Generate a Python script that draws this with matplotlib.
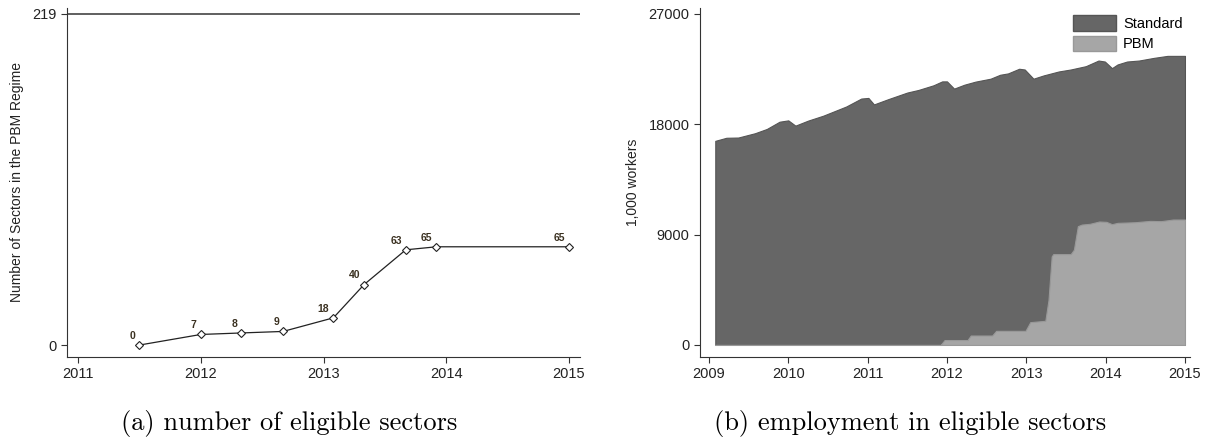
import matplotlib
matplotlib.use("Agg")
import matplotlib.pyplot as plt
from matplotlib.patches import Patch

# panel (a): sectors in PBM regime
sector_dates = [2011.5, 2012.0, 2012.33, 2012.67, 2013.08, 2013.33, 2013.67, 2013.92, 2015.0]
sector_counts = [0, 7, 8, 9, 18, 40, 63, 65, 65]
total_sectors = 219

# panel (b): employment, 1,000 workers (top of stack = all eligible sectors)
total_dates = [2009.08, 2009.22, 2009.37, 2009.58, 2009.73, 2009.89, 2010.0, 2010.09, 2010.25,
               2010.44, 2010.73, 2010.92, 2011.01, 2011.08, 2011.26, 2011.5, 2011.64, 2011.83,
               2011.94, 2012.0, 2012.09, 2012.22, 2012.36, 2012.55, 2012.67, 2012.77, 2012.91,
               2012.98, 2013.09, 2013.22, 2013.41, 2013.56, 2013.75, 2013.91, 2013.99, 2014.08,
               2014.15, 2014.27, 2014.42, 2014.61, 2014.78, 2015.0]
total_workers = [16650, 16900, 16920, 17270, 17620, 18210, 18320, 17890, 18300,
                 18700, 19450, 20100, 20150, 19620, 20050, 20590, 20800, 21180,
                 21500, 21500, 20910, 21230, 21480, 21720, 22040, 22150, 22530,
                 22470, 21720, 21990, 22310, 22470, 22740, 23200, 23120, 22580,
                 22880, 23120, 23200, 23420, 23580, 23580]

pbm_dates = [2009.08, 2011.92, 2011.97, 2012.26, 2012.3, 2012.57, 2012.62, 2012.99, 2013.05,
             2013.24, 2013.28, 2013.32, 2013.34, 2013.56, 2013.6, 2013.65, 2013.7, 2013.8,
             2013.92, 2014.01, 2014.08, 2014.15, 2014.37, 2014.56, 2014.7, 2014.85, 2015.0]
pbm_workers = [0, 0, 400, 400, 770, 770, 1150, 1150, 1860,
               1970, 3670, 7220, 7410, 7410, 7770, 9690, 9820, 9880,
               10070, 10040, 9850, 9960, 10010, 10120, 10100, 10230, 10230]

tick_font = ["Liberation Sans", "DejaVu Sans"]
txt_col = "#222222"
spine_col = "#333333"

fig = plt.figure(figsize=(12.06, 4.41), dpi=100)
ax1 = fig.add_axes([0.0556, 0.1905, 0.4254, 0.7915])
ax2 = fig.add_axes([0.5804, 0.1905, 0.4063, 0.7915])

for ax in (ax1, ax2):
    ax.spines["top"].set_visible(False)
    ax.spines["right"].set_visible(False)
    ax.spines["left"].set_color(spine_col)
    ax.spines["bottom"].set_color(spine_col)
    ax.tick_params(direction="out", length=4, color=spine_col, labelsize=10.5, labelcolor=txt_col)

# (a)
ax1.axhline(total_sectors, color="#444444", lw=1.2)
ax1.plot(sector_dates, sector_counts, color="#222222", lw=0.9, marker="D", markersize=4,
         markerfacecolor="white", markeredgecolor="#222222", markeredgewidth=0.8)
for d, c in zip(sector_dates, sector_counts):
    ax1.annotate(str(c), (d, c), xytext=(-3, 3), textcoords="offset points", ha="right", va="bottom",
                 fontsize=7.5, fontweight="bold", color="#3a3020", family=tick_font)
ax1.set_xlim(2010.91, 2015.09)
ax1.set_ylim(-7.9, 223)
ax1.set_xticks([2011, 2012, 2013, 2014, 2015])
ax1.set_yticks([0, total_sectors])
ax1.set_ylabel("Number of Sectors in the PBM Regime", fontsize=10, color=txt_col, labelpad=6,
               family=tick_font)
for lab in ax1.get_xticklabels() + ax1.get_yticklabels():
    lab.set_family(tick_font)

# (b)
ax2.fill_between(total_dates, 0, total_workers, color="#666666", edgecolor="#555555", lw=0.8)
ax2.fill_between(pbm_dates, 0, pbm_workers, color="#a6a6a6", edgecolor="#999999", lw=0.8)
ax2.set_xlim(2008.887, 2015.063)
ax2.set_ylim(-982, 27491)
ax2.set_xticks([2009, 2010, 2011, 2012, 2013, 2014, 2015])
ax2.set_yticks([0, 9000, 18000, 27000])
ax2.set_ylabel("1,000 workers", fontsize=10, color=txt_col, labelpad=6, family=tick_font)
for lab in ax2.get_xticklabels() + ax2.get_yticklabels():
    lab.set_family(tick_font)
handles = [Patch(facecolor="#666666", edgecolor="#555555", label="Standard"),
           Patch(facecolor="#a6a6a6", edgecolor="#999999", label="PBM")]
ax2.legend(handles=handles, loc="upper right", frameon=False,
           handlelength=2.9, handleheight=1.3, borderaxespad=0.1, labelspacing=0.3,
           handletextpad=0.5, prop={"family": tick_font, "size": 10.5})

fig.text(0.24, 0.025, "(a) number of eligible sectors", ha="center", fontsize=19, family="cmr10")
fig.text(0.755, 0.025, "(b) employment in eligible sectors", ha="center", fontsize=19, family="cmr10")

fig.savefig("out.png", dpi=100)
